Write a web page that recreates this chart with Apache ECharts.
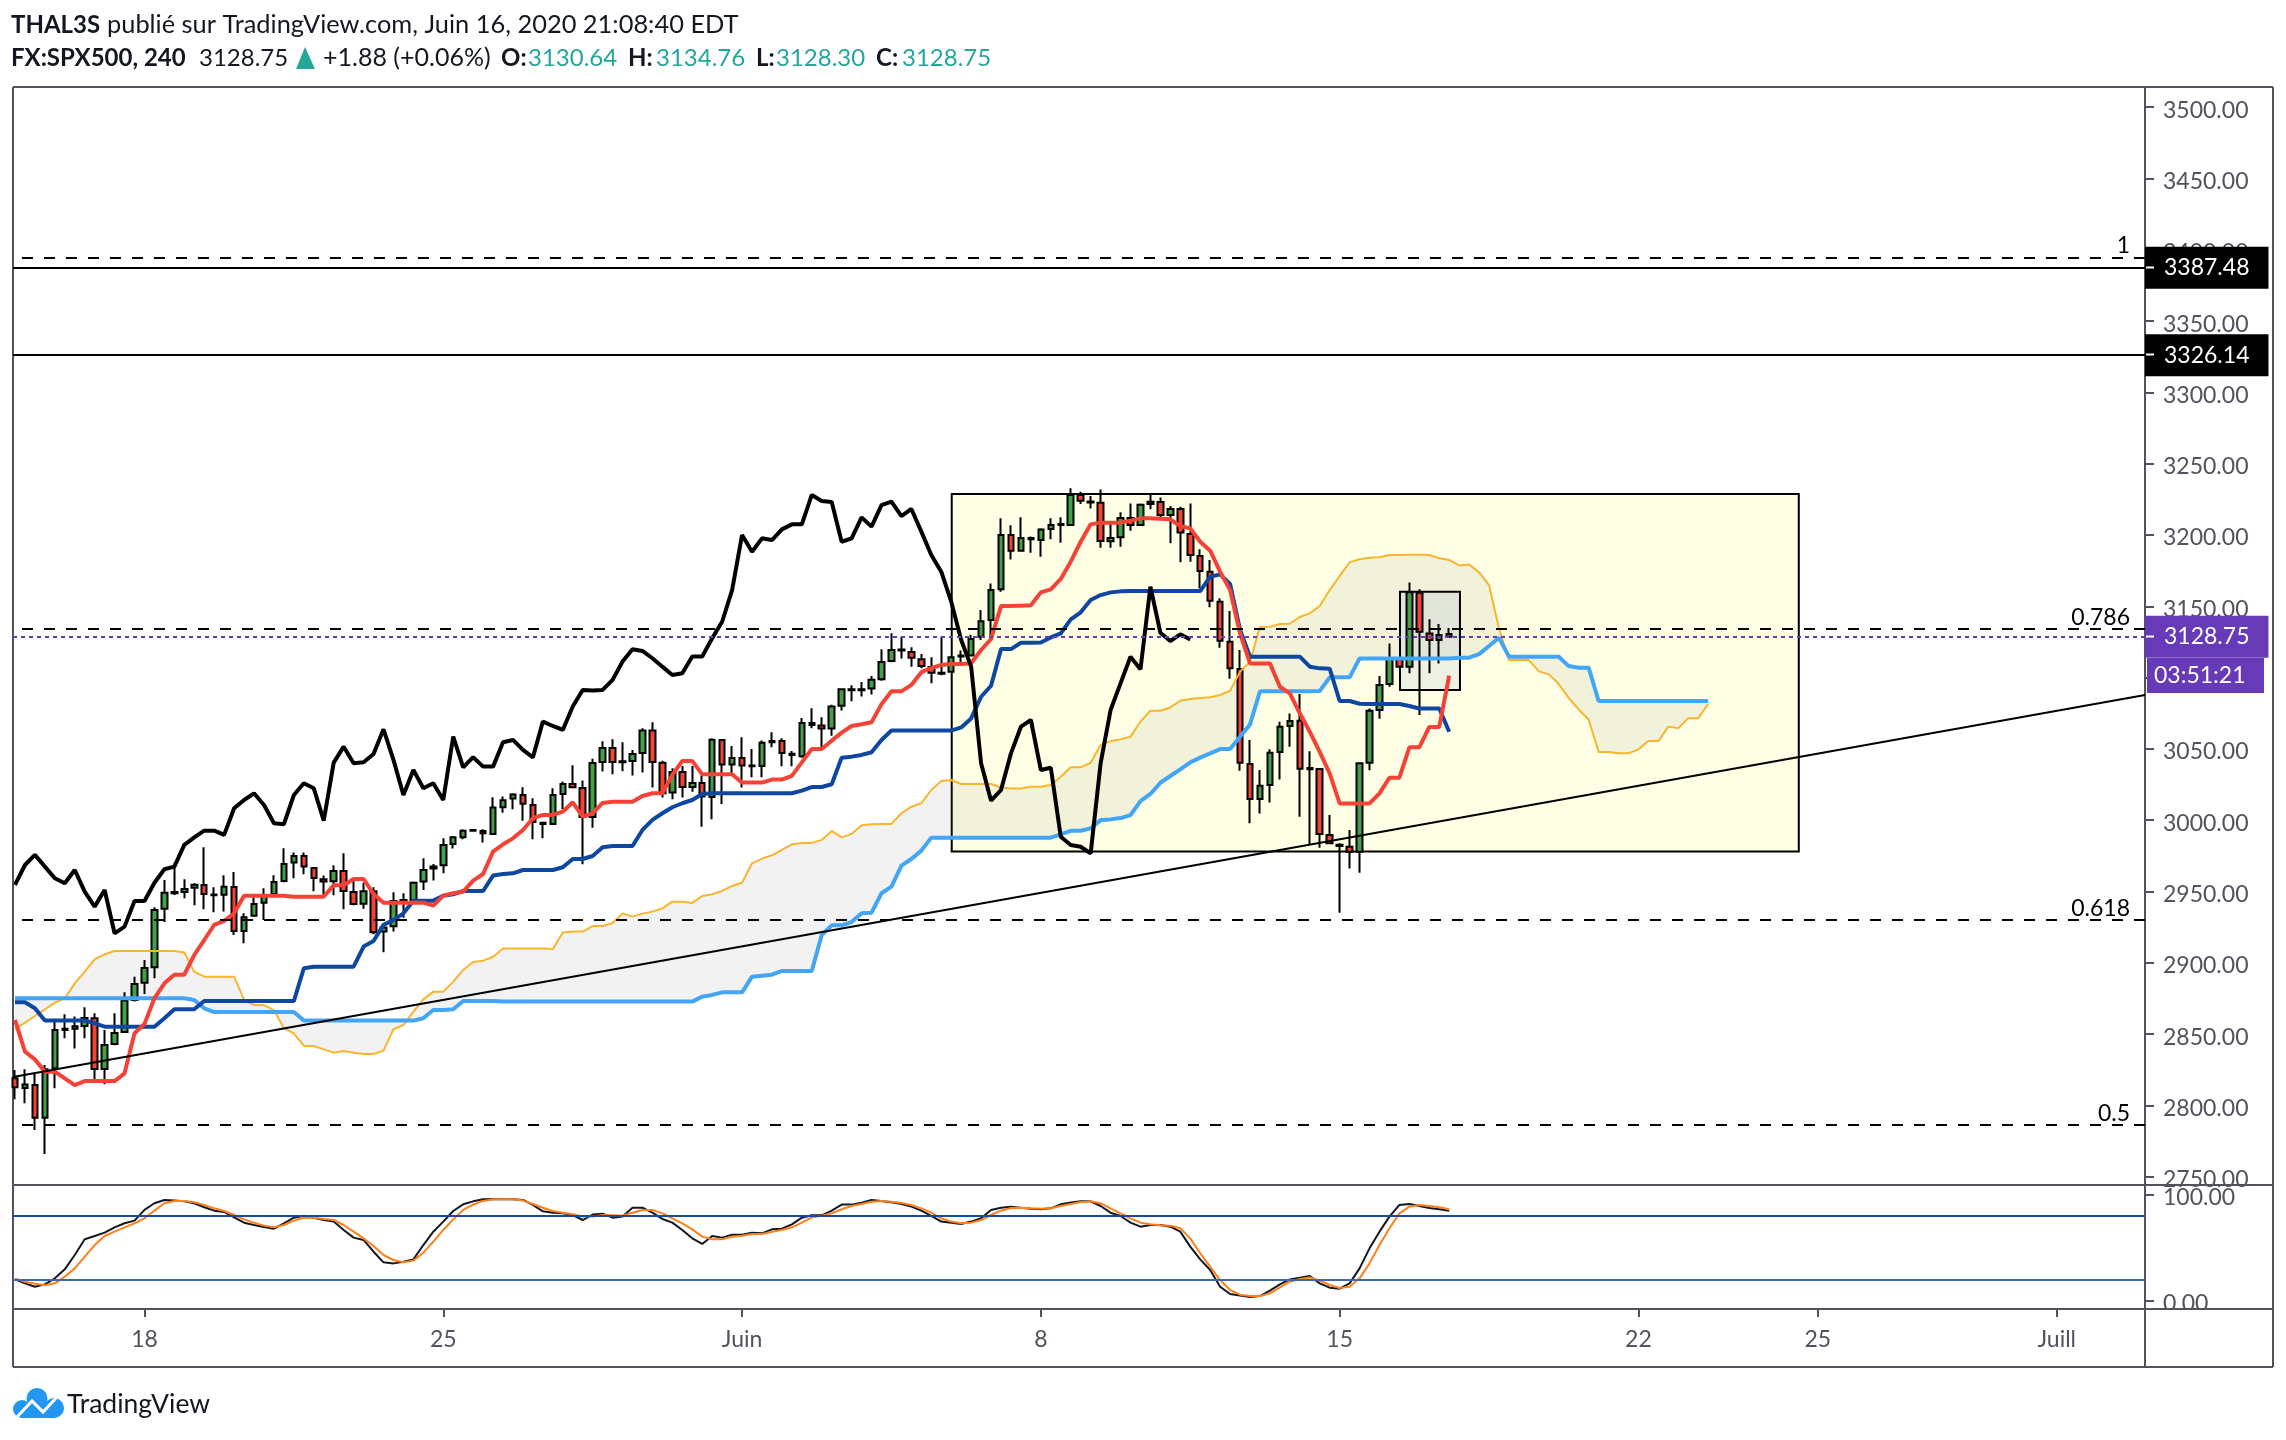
<!DOCTYPE html>
<html><head><meta charset="utf-8"><title>FX:SPX500</title>
<script src="https://cdn.jsdelivr.net/npm/echarts@6/dist/echarts.min.js"></script>
<style>html,body{margin:0;padding:0;background:#fff}#c{width:2286px;height:1440px}</style></head>
<body><div id="c"></div>
<script>
// [open, close, low, high] for each 4h bar
const ohlc = [
[2819,2812.7,2804.3,2824.9],[2812.2,2814.6,2801.5,2825.3],[2814.3,2791.4,2782.8,2823],[2791.4,2825.3,2766,2828.4],[2826,2852.9,2812,2858.8],
[2852.9,2853.8,2847.1,2863.9],[2853.8,2855.5,2840,2862.3],[2855.7,2861.3,2847.1,2868.8],[2861.1,2825.6,2816.2,2864.6],[2825.6,2842.4,2814.8,2852.9],
[2843.1,2850.8,2842.2,2864.6],[2851.5,2873.5,2851.5,2879.3],[2874,2885.2,2872.8,2890.3],[2886.1,2896.4,2878.2,2902],[2896.9,2937.1,2889.2,2939],
[2938,2949.2,2928.7,2958.1],[2948.8,2949.7,2947.6,2969.8],[2949.7,2951.8,2945.3,2958.6],[2952.7,2954.8,2940.3,2955.8],[2954.6,2948.3,2937.5,2981],
[2947.4,2948,2935.4,2953],[2947.8,2953.4,2936,2961.4],[2953.2,2922.3,2919.5,2963.7],[2922.3,2931.9,2913.7,2934.7],[2933.1,2941.3,2933.1,2946],
[2942.2,2947.6,2930,2952.3],[2948.3,2956.7,2946,2961.4],[2957.4,2969.3,2956.5,2980.3],[2970.3,2975,2959.3,2977.3],[2975,2967.5,2962.1,2977.3],
[2966.5,2959.5,2950.2,2966.5],[2958.6,2957,2945.7,2961.2],[2957.2,2964.4,2947.4,2968.4],[2964.4,2950.4,2937.5,2976.8],[2949.7,2941.3,2940.3,2957.7],
[2941.5,2950.2,2938,2956.2],[2950.2,2921.4,2920,2953],[2921.9,2924.7,2907.4,2926.6],[2925.6,2943.4,2921.9,2949.5],[2943.4,2944.1,2931.7,2948.8],
[2944.1,2956.2,2941.8,2957],[2957,2965.1,2951.1,2973.3],[2966.1,2967.5,2957.7,2969.3],[2968.4,2982.7,2962.8,2987.3],[2983.4,2988,2980.1,2989],
[2988,2992.7,2986.6,2993.7],[2992.7,2993.2,2992.2,2993.9],[2992.5,2990.9,2984.3,2993.7],[2990.4,3008.9,2989.7,3016.1],[3009.1,3014,3005.3,3016.6],
[3015.2,3018,3007.7,3018.9],[3017.7,3011.6,2999.7,3023.1],[3010.7,2998.8,2986.6,3015.4],[2997.4,2998.3,2987.3,2998.3],[2997.4,3017.7,2997.4,3022.4],
[3018.4,3025.4,3007.7,3027.1],[3025.4,3023.1,3022.4,3038.5],[3022.6,3002.3,2969.1,3027.8],[3002.3,3040.2,2994.8,3043.2],[3040.9,3050.7,3034.1,3055.4],
[3050.7,3040.9,3032.2,3056.8],[3040.6,3041.3,3034.3,3054.7],[3041.6,3046.5,3031.3,3049.3],[3047.2,3062.9,3033.4,3064.5],[3062.9,3040.9,3022.9,3068.7],
[3040.4,3018.9,3015.9,3041.8],[3019.4,3033.9,3014.7,3036.4],[3033.9,3023.3,3015.9,3038.1],[3023.3,3026.1,3020,3038.1],[3026.1,3016.6,2995.5,3031.3],
[3016.3,3056.5,3000.7,3057.5],[3056.3,3039,3011.4,3057],[3039,3043.7,3032.9,3052.1],[3043.7,3038.3,3022.9,3058.2],[3037.8,3038.3,3030.1,3050],
[3038.1,3054.4,3030.1,3056],[3054.7,3055.6,3051.2,3061.7],[3055.6,3047.2,3037.8,3057.5],[3045.8,3046.7,3037.8,3048.6],[3044.9,3068.2,3043.9,3071.7],
[3068.2,3066.8,3064.5,3078.5],[3066.4,3064.3,3050.5,3072.2],[3064.3,3079.7,3059.3,3080.9],[3080.2,3091.8,3076.9,3092.5],[3091.1,3091.8,3083.4,3094.6],
[3091.1,3091.8,3086.7,3097],[3092.3,3098.6,3088.1,3101.2],[3098.9,3111,3097.9,3119.9],[3111.7,3119.4,3110.8,3131.1],[3119,3119.7,3113.4,3128.8],
[3118,3114,3107.7,3121.3],[3112.9,3108.2,3106.6,3116.6],[3107.5,3103.5,3096.1,3114.3],[3103.5,3102.8,3101.7,3128.8],[3104.2,3114.3,3103.5,3114.8],
[3114.8,3115.5,3108.2,3119],[3115.5,3127.1,3114.8,3130],[3128.7,3139.5,3126.4,3147.4],[3140.4,3161.4,3128.7,3166.1],[3161.9,3200,3160.3,3211.7],
[3200,3189,3182.9,3206.8],[3189,3197.9,3188.6,3212.4],[3197,3197.9,3187.6,3198.9],[3196.5,3203.8,3184.8,3204.7],[3204.2,3207,3197,3211.7],
[3207,3207.7,3194.6,3212.4],[3207,3228.1,3206.3,3232.8],[3228.1,3224.1,3221.8,3230.4],[3223.6,3222.9,3218.7,3227.4],[3222.7,3195.8,3191.1,3232],
[3195.6,3197.9,3191.1,3207.7],[3198.4,3211.9,3191.8,3215.9],[3211.9,3207,3203,3222.2],[3207,3221.3,3206.3,3222.2],[3221.8,3223.4,3218,3228.1],
[3223.2,3214,3212.4,3226.4],[3214,3218.3,3194.2,3220.4],[3218.3,3201.7,3180.9,3219.9],[3200.7,3186,3181.3,3222.2],[3185.3,3174.8,3162.6,3190],
[3174.3,3154,3149.3,3182.5],[3153.3,3125.9,3121,3155.6],[3125.2,3106.5,3099.3,3146.7],[3106,3040.3,3034.7,3119.4],[3039.4,3014.9,2997.8,3056.2],
[3014.9,3024.2,3004.8,3035.2],[3024.7,3047.4,3012.5,3049.7],[3047.8,3065.6,3028.6,3069.1],[3066.1,3069.6,3051.6,3074.9],[3069.8,3036.1,3002.5,3088.5],
[3036.6,3035.7,2983.3,3048.3],[3035.9,2990.3,2980.7,3036.4],[2989.6,2983.8,2983.1,3003.6],[2982.8,2981.9,2935.1,2983.8],[2981.4,2977.9,2966.2,2993.1],
[2977.9,3039.9,2963.2,3040.3],[3040.3,3076.8,3035,3078.4],[3077.3,3094.8,3071.2,3101.1],[3095.5,3113.8,3093.6,3124],[3113.8,3107.7,3107.7,3113.8],
[3107.7,3159.8,3103,3166.8],[3159.6,3132.2,3073.8,3161.9],[3131,3126.4,3103,3140.9],[3126.4,3129.9,3110,3137.6],[3130.64,3128.75,3128.3,3134.76]
];
const tenkan = [
2860,2837.7,2832.3,2823.7,2823.7,2819,2814.3,2817.1,2817.1,2817.1,
2817.1,2822.5,2850.6,2857.1,2875.1,2885.6,2891.7,2891.7,2905.5,2916,
2926.6,2929.4,2934.7,2947.1,2947.1,2947.1,2947.1,2947.1,2946.4,2946.4,
2946.4,2946.4,2954.4,2954.4,2958.8,2958.8,2948.3,2942.2,2942.2,2942.2,
2942.2,2942.2,2940.1,2947.1,2948.8,2949.9,2957.7,2962.3,2978,2983.1,
2987.3,2993.2,3001.4,3003.7,3003.7,3006,3012.6,3002.5,3004.9,3012.1,
3013,3013,3013,3017,3018.9,3018.9,3031.8,3041.6,3041.6,3032.2,
3032.2,3032.2,3032.2,3026.4,3026.4,3026.4,3028.5,3028.5,3031.1,3040.6,
3050,3050,3055.8,3061.4,3066.1,3067.3,3068.7,3081.3,3090.4,3090.4,
3094.9,3103.8,3106.6,3108.9,3109.6,3109.6,3110.1,3119.4,3127.1,3150.2,
3150.2,3150.5,3150.7,3159.8,3161.9,3169.2,3181.3,3195.3,3207.5,3208.7,
3208.7,3208.7,3210.1,3211.7,3211.7,3211.5,3211,3206.3,3204.7,3195.3,
3189,3174.3,3161.4,3131,3110,3110,3110,3093.6,3089,3075,
3062.1,3048,3032.9,3011.8,3011.8,3011.8,3011.8,3018.8,3029.8,3029.8,
3051.1,3051.1,3065.4,3065.4,3101.4];
const kijun = [
2872.3,2872.3,2868.1,2859.5,2859.5,2859.5,2859.5,2859.5,2857.6,2855.2,
2855.2,2855.2,2855.2,2855.2,2855.2,2861.1,2867.4,2867.4,2867.4,2873.2,
2873.2,2873.2,2873.2,2873.2,2873.2,2873.2,2873.2,2873.2,2873.2,2896.2,
2897.3,2897.3,2897.3,2897.3,2897.3,2911.4,2915.3,2926.6,2930,2934.7,
2943.6,2943.6,2943.6,2947.1,2948,2950.4,2950.4,2950.4,2961.2,2962.3,
2962.8,2965.1,2965.1,2965.1,2965.1,2967,2972.8,2972.8,2974.9,2981,
2981.9,2981.9,2981.9,2993.2,3000.2,3004.9,3009.1,3011.9,3014.2,3018.4,
3018.9,3018.9,3018.9,3018.9,3018.9,3018.9,3018.9,3018.9,3018.9,3020.8,
3023.3,3023.3,3025.2,3043.9,3044.6,3045.8,3047.7,3056.3,3062.9,3062.9,
3062.9,3062.9,3062.9,3062.9,3062.9,3065.1,3071.4,3086.6,3094.3,3120,
3120,3124.5,3124.5,3124.7,3128.2,3131,3140.9,3145.8,3154.4,3157.9,
3159.8,3160.5,3160.7,3160.7,3160.7,3160.7,3160.7,3160.7,3160.7,3160.7,
3170.8,3172.4,3165.7,3133.4,3114.7,3114.7,3114.7,3114.7,3114.7,3114.7,
3107.7,3106.5,3106.3,3083.6,3083.6,3081.7,3081.5,3081.5,3081.5,3081.5,
3080.1,3078.4,3078.4,3078.4,3062.1];
const spanA = [
2853.4,2858.1,2862.7,2867.4,2872.1,2875.1,2885.6,2893.8,2902.5,2906,
2908.3,2908.3,2908.3,2908.3,2908.3,2908.3,2908.3,2907.2,2893.8,2890.3,
2890.3,2890.3,2890.3,2874,2870.4,2870.4,2866.9,2854.1,2850.6,2841.7,
2841.7,2839.3,2837,2838.2,2837,2836.1,2836.1,2838.4,2853.4,2856.4,
2865.8,2874.4,2879.8,2879.8,2886.8,2895,2900.6,2901.5,2904.3,2910,
2910,2910,2910,2910,2909.7,2921.2,2921.9,2921.9,2925.8,2925.8,
2927.9,2934.7,2932.4,2934.5,2935.9,2938.2,2942.9,2942.9,2942,2946.9,
2948.1,2950.4,2953.9,2956.2,2969.8,2973.1,2975.4,2979.2,2983.1,2984.1,
2984.1,2986.2,2992.5,2988,2990.4,2996.5,2997.2,2997.4,2997.4,3004.9,
3009.5,3011.9,3021.2,3027.5,3028.2,3025.4,3025.4,3025.4,3025.4,3023,
3022.3,3022.3,3023.5,3023.5,3024.7,3030.5,3037.1,3037.1,3040.3,3052.7,
3055.5,3056.7,3058.6,3069.1,3076.8,3076.8,3079.1,3083.8,3085,3085.7,
3086.2,3087.8,3090.8,3104.2,3111.2,3135.5,3135.7,3137.6,3137.8,3142.5,
3145.1,3150.2,3161.4,3171.3,3180.8,3183,3184.1,3184.4,3186,3186,
3186.2,3186.2,3186,3183.7,3182.5,3178.7,3179.4,3173.8,3164.9,3134.5,
3112.3,3112.3,3112.3,3104.4,3102.3,3095.5,3085.7,3077.7,3070.7,3047.8,
3047.8,3046.9,3046.9,3049.7,3055.5,3055.5,3065.6,3064.6,3071.6,3071.6,3081.5];
const spanB = [
2875.1,2875.1,2875.1,2875.1,2875.1,2875.1,2875.1,2875.1,2875.1,2875.1,
2875.1,2875.1,2875.1,2875.1,2875.1,2875.1,2875.1,2875.1,2874,2868.1,
2865.5,2865.5,2865.5,2865.5,2865.5,2865.5,2865.5,2865.5,2865.5,2859.5,
2859.5,2859.5,2859.5,2859.5,2859.5,2859.5,2859.5,2859.5,2859.5,2859.5,
2859.5,2861.1,2866.9,2866.9,2867.4,2873.2,2873.2,2873.2,2873.2,2872.8,
2872.8,2872.8,2872.8,2872.8,2872.8,2872.8,2872.8,2872.8,2872.8,2872.8,
2872.8,2872.8,2872.8,2872.8,2872.8,2872.8,2872.8,2872.8,2872.8,2876.3,
2877.5,2879.3,2879.3,2879.3,2890.3,2891,2891.7,2894.3,2894.3,2894.3,
2894.3,2919.5,2926.3,2926.3,2928.6,2934.7,2935.2,2948.8,2953.4,2968.2,
2972.8,2978.7,2987.8,2987.8,2987.8,2987.8,2987.8,2987.8,2987.8,2987.8,
2987.8,2987.8,2987.8,2987.8,2987.8,2990.1,2992.6,2992.6,2994.3,3000.1,
3000.6,3001.5,3003.6,3013.4,3018.4,3026.3,3031,3035.7,3040.6,3043.9,
3046.9,3049.9,3049.9,3058.6,3067.2,3090.4,3090.4,3090.4,3090.4,3090.4,
3090.4,3090.6,3100.2,3100.2,3100.2,3113.5,3113.5,3113.5,3113.5,3113.5,
3113.5,3113.5,3113.5,3113.5,3113.5,3114,3114,3116.5,3122.2,3128,
3114.7,3114.7,3114.7,3114.7,3114.7,3114.7,3108.1,3107,3107,3083.6,
3083.6,3083.6,3083.6,3083.6,3083.6,3083.6,3083.6,3083.6,3083.6,3083.6,3083.6];
const chikou = [
2954.6,2968.6,2975.7,2967.5,2959.3,2955.8,2965.1,2949.9,2939.4,2951.1,
2920.7,2925.4,2943.4,2943.4,2956.2,2965.6,2967.5,2982.7,2988,2992.7,
2992.7,2989.7,3008.4,3014.2,3018.9,3010.7,2997.9,2997.2,3017.7,3025.9,
3022.4,2999.7,3040.4,3051.6,3039.9,3040.7,3046.5,3063.8,3042.3,3017.7,
3035.3,3022.4,3025.9,3014.2,3058.7,3037.1,3044.2,3037.6,3037.6,3054.7,
3056.3,3049.3,3044.1,3069.2,3066.1,3063.3,3079.7,3091.4,3090.9,3091.4,
3098.4,3111.3,3119.9,3118.7,3113.6,3107.7,3101.9,3103.1,3114.8,3114.8,
3127.6,3139.2,3161.4,3200,3188.3,3197.7,3196.5,3204,3207.5,3207.5,
3228.1,3223.9,3223.2,3195.3,3197.7,3212.4,3205.9,3221,3223.4,3213.3,
3218.3,3202.4,3186,3174.3,3153.3,3126.4,3107.7,3039.9,3013.7,3021.2,
3046.9,3065.6,3070.3,3035.2,3036.8,2988.4,2982.6,2981.4,2976.7,3039.9,
3077.3,3096,3114.7,3105.8,3163.8,3131.5,3125.7,3130.4,3126.8];
const stochK = [
20.4,16.7,13.5,15.7,21.4,29.9,43.4,58.2,61.3,64.5,
69.5,73.3,75.8,85.9,92.2,95.3,94.7,94,92.2,88.4,
85.2,84,78.9,73.9,71.7,69.8,68.2,73.3,78.6,80.5,
78.6,76.4,74.9,67,59.8,57.6,46.5,36.5,35.5,37.1,
39.3,52.8,65.4,74.9,84.9,91.2,94,95.9,96.2,95.9,
95.9,95.3,90.6,84.6,83.3,82.7,81.1,76.4,81.5,82.4,
78.6,79.6,88,88,83.3,77.4,73.9,67,59.1,53.8,
61.3,59.8,62.6,62.6,64.5,63.8,67.6,68.2,72.3,78.6,
80.8,80.8,85.2,90.9,90.9,92.8,95.3,94.4,93.1,91.5,
89,85.2,80.2,74.9,73.9,72.6,74.9,78,85.9,88,
89,88,87.1,86.5,87.4,91.2,92.8,94,94,89.6,
83.3,80.2,73.9,70.1,71.7,71.7,70.1,65.4,51.3,39.3,
29.3,13.5,6.6,5.3,3.8,4.7,9.8,15.7,20.4,22,
23.6,16.7,12.6,11.6,16.7,30.8,49.7,65.4,79.6,90.6,
91.5,89.6,87.7,86.5,85.2];
const stochD = [
21.1,18.2,16.4,14.8,16.7,23,30.8,41.8,52.8,61.3,
65.4,69.5,73.3,78,85.2,92.2,94.4,94.4,93.1,90.6,
87.4,84.9,81.1,77,73.9,71.1,69.5,71.7,75.8,78.6,
78.6,77.4,76.4,71.7,65.4,59.1,51.9,43.4,38.7,36.5,
38.1,45.6,56,67,77,85.9,90.9,94.4,95.9,95.9,
95.9,94.7,91.5,88,84.9,83.3,81.8,79.6,79.6,81.1,
80.8,80.5,83.3,85.9,85.9,82.7,78,73.3,67.6,60.7,
58.2,58.2,60.7,61.6,63.2,63.2,65.4,67,69.5,73.9,
78.9,80.5,82.7,86.5,89.6,91.5,93.7,94.4,93.7,92.5,
90.6,87.4,83.3,78,74.9,73.3,73.9,76.4,81.1,85.2,
87.7,88,87.4,87.1,87.4,89.6,91.5,93.4,94,92.2,
87.4,82.7,78,73.9,72.3,71.4,71.1,68.6,59.1,45,
32.4,19.8,10.4,6,4.7,4.7,7.2,12.9,18.2,20.8,
22.3,19.2,15.1,12.3,13.5,21.4,35.5,52.8,68.6,82.7,
89,90.6,89.6,88.4,86.5];
const priceTicks = [2750,2800,2850,2900,2950,3000,3050,3100,3150,3200,3250,3300,3350,3400,3450,3500];
const oscTicks = [0,100];
const dateTickBars = [13,43,73,103,133,163,181,205];
const dateTickLabels = ['18','25','Juin','8','15','22','25','Juill'];
const fibLevels = [3394.8,3134.2,2930,2786.5];
const fibLabels = ['1','0.786','0.618','0.5'];
const supportLevels = [3387.48,3326.14];
const lastPrice = 3128.75;
const trendLine = [[-0.2,2820],[213.86,3087.8]];
const yellowBox = [94.05,179.1,2978,3228.8];
const smallBox = [139.06,145.08,3091.3,3160.3];
const oscBands = [80,20];

const XMIN=-0.2, XMAX=213.86;
const INK='#131722', AXIS='#50535e', TEAL='#26a69a', PURPLE='#673ab7';
const idx = a => a.map((v,i)=>[i,v]);
const line = (name,arr,color,w,extra)=>Object.assign({name,type:'line',data:idx(arr),showSymbol:false,symbol:'none',
  xAxisIndex:0,yAxisIndex:0,lineStyle:{color,width:w},itemStyle:{color},silent:true,animation:false},extra||{});
const boxSeries=(b,fill)=>({type:'custom',xAxisIndex:0,yAxisIndex:0,silent:true,data:[[b[0],b[2]]],
  renderItem:(p,api)=>{const a=api.coord([b[0],b[3]]),c=api.coord([b[1],b[2]]);
    return {type:'rect',shape:{x:a[0],y:a[1],width:c[0]-a[0],height:c[1]-a[1]},style:{fill,stroke:'#000',lineWidth:2}};}});
const fibLines = fibLevels.map((v,i)=>[
  {coord:[0.7,v],lineStyle:{color:'#000',width:2,type:[11,11]},
   label:{show:true,position:'insideEndTop',formatter:fibLabels[i],color:'#000',fontFamily:'Lato',fontSize:23,padding:[0,15,0,0],distance:0}},
  {coord:[XMAX,v]}]);
const priceLabel=(bg,v)=>({show:true,position:'end',distance:0,color:'#fff',backgroundColor:bg,fontFamily:'Lato',fontSize:23,
  padding:[11,19,8,19],formatter:v.toFixed(2)});
const supportLines = supportLevels.map(v=>[
  {coord:[XMIN,v],lineStyle:{color:'#000',width:2,type:'solid'},label:priceLabel('#000',v)},{coord:[XMAX,v]}]);
const lastLine = [{coord:[XMIN,lastPrice],lineStyle:{color:PURPLE,width:2,type:[4,4]},label:priceLabel(PURPLE,lastPrice)},{coord:[XMAX,lastPrice]}];
const yLabel = {margin:18,fontFamily:'Lato',fontSize:23,color:AXIS,formatter:v=>'{a|'+v.toFixed(2)+'}',
  rich:{a:{padding:[6,0,0,0],fontFamily:'Lato',fontSize:23,color:AXIS}}};

const txt=(x,y,s,o)=>({type:'text',x,y,z:5,style:Object.assign({text:s,fontFamily:'Lato',fontSize:24,fill:INK,verticalAlign:'middle'},o||{})});
const seg=(x1,y1,x2,y2,c,w,z)=>({type:'line',z:z||1,shape:{x1,y1,x2,y2},style:{stroke:c,lineWidth:w}});
const B={fontWeight:'bold'}, T={fill:TEAL};
const LOGO='#2196f3';
const graphics=[
  seg(13,87,2273,87,AXIS,2),seg(13,87,13,1367,AXIS,2),seg(2273,87,2273,1367,AXIS,2),seg(13,1367,2273,1367,AXIS,2),
  seg(2145,87,2145,1367,AXIS,2),seg(13,1185,2273,1185,AXIS,2),seg(13,1309,2273,1309,AXIS,2),
  {type:'rect',z:1,shape:{x:2147,y:1310,width:124,height:8},style:{fill:'#fff'}},
  seg(2146,267.5,2154,267.5,'#fff',2,10),seg(2146,354.5,2154,354.5,'#fff',2,10),seg(2146,636.5,2154,636.5,'#fff',2,10),
  {type:'rect',z:5,shape:{x:2147,y:658,width:117,height:35},style:{fill:PURPLE}},
  txt(2154,676,'03:51:21',{fill:'#fff',fontSize:23}),
  txt(11,25,'THAL3S',{fontWeight:'bold',fontSize:24}),txt(107,25,'publié sur TradingView.com, Juin 16, 2020 21:08:40 EDT',{fontSize:25.4}),
  txt(11,58,'FX:SPX500, 240',B),txt(199,58,'3128.75'),
  {type:'polygon',z:5,shape:{points:[[305,47],[296,69],[315,69]]},style:{fill:TEAL}},
  txt(323,58,'+1.88 (+0.06%)',{fontSize:25}),
  txt(501,58,'O:',B),txt(528,58,'3130.64',T),txt(628,58,'H:',B),txt(656,58,'3134.76',T),
  txt(756,58,'L:',B),txt(776,58,'3128.30',T),txt(876,58,'C:',B),txt(902,58,'3128.75',T),
  {type:'circle',z:5,shape:{cx:22,cy:1409,r:9},style:{fill:LOGO}},
  {type:'circle',z:5,shape:{cx:37,cy:1398.5,r:10.5},style:{fill:LOGO}},
  {type:'circle',z:5,shape:{cx:54,cy:1408,r:10},style:{fill:LOGO}},
  {type:'rect',z:5,shape:{x:22,y:1404,width:32,height:14},style:{fill:LOGO}},
  {type:'polyline',z:6,shape:{points:[[17,1417],[32,1401],[43,1412],[56,1398]]},style:{stroke:'#fff',lineWidth:3,fill:null}},
  txt(67,1404,'TradingView',{fontSize:26.5})
];

const chart=echarts.init(document.getElementById('c'),null,{renderer:'canvas'});
chart.setOption({
  animation:false,backgroundColor:'#fff',
  grid:[{left:13,top:87,width:2132,height:1098,show:false},{left:13,top:1185,width:2132,height:124,show:false}],
  xAxis:[
    {type:'value',gridIndex:0,min:XMIN,max:XMAX,show:false,axisLine:{onZero:false}},
    {type:'value',gridIndex:1,min:XMIN,max:XMAX,position:'bottom',splitLine:{show:false},axisLine:{show:false,onZero:false},
     axisTick:{show:true,length:8,lineStyle:{color:AXIS,width:2},customValues:dateTickBars},
     axisLabel:{customValues:dateTickBars,margin:19,color:AXIS,fontFamily:'Lato',fontSize:23,
       formatter:v=>dateTickLabels[dateTickBars.indexOf(v)]}}
  ],
  yAxis:[
    {type:'value',gridIndex:0,position:'right',min:2744.2,max:3514.2,splitLine:{show:false},axisLine:{show:false,onZero:false},
     axisTick:{show:true,length:9,lineStyle:{color:AXIS,width:2},customValues:priceTicks},
     axisLabel:Object.assign({customValues:priceTicks},yLabel)},
    {type:'value',gridIndex:1,position:'right',min:-7.5,max:109.4,splitLine:{show:false},axisLine:{show:false,onZero:false},
     axisTick:{show:true,length:9,lineStyle:{color:AXIS,width:2},customValues:oscTicks},
     axisLabel:Object.assign({customValues:oscTicks},yLabel)}
  ],
  series:[
    boxSeries(yellowBox,'#ffffe5'),
    {type:'custom',xAxisIndex:0,yAxisIndex:0,silent:true,data:[[0,spanA[0]]],
     renderItem:(p,api)=>{const up=spanA.map((v,i)=>api.coord([i,v])),dn=spanB.map((v,i)=>api.coord([i,v])).reverse();
       return {type:'polygon',shape:{points:up.concat(dn)},style:{fill:'rgba(130,125,130,0.1)'}};}},
    line('Span A',spanA,'#f9b52f',2),
    line('Span B',spanB,'#42a5f5',4),
    line('Kijun',kijun,'#0d47a1',4),
    line('Tenkan',tenkan,'#f44336',4),
    boxSeries(smallBox,'rgba(113,147,221,0.12)'),
    line('Chikou',chikou,'#000',4),
    line('Levels',[],'#000',2,{data:[],markLine:{silent:true,symbol:'none',animation:false,data:fibLines.concat(supportLines,[lastLine])}}),
    {name:'SPX500',type:'candlestick',xAxisIndex:0,yAxisIndex:0,silent:true,barWidth:6,
     encode:{x:0,y:[1,2,3,4]},data:ohlc.map((r,i)=>[i].concat(r)),
     itemStyle:{color:'#43a047',color0:'#f44336',borderColor:'#000',borderColor0:'#000',borderWidth:2}},
    line('Trend',[],'#000',2,{data:trendLine}),
    line('K',stochK,'#131722',2,{xAxisIndex:1,yAxisIndex:1}),
    line('D',stochD,'#ff7f1a',2,{xAxisIndex:1,yAxisIndex:1}),
    line('Bands',[],'#000',2,{xAxisIndex:1,yAxisIndex:1,data:[],markLine:{silent:true,symbol:'none',animation:false,label:{show:false},
      data:oscBands.map((v,i)=>[{coord:[XMIN,v],lineStyle:{width:2,type:'solid',color:i?'#3d69ad':'#1a4a9c'}},{coord:[XMAX,v]}])}})
  ],
  graphic:graphics
});
</script></body></html>
